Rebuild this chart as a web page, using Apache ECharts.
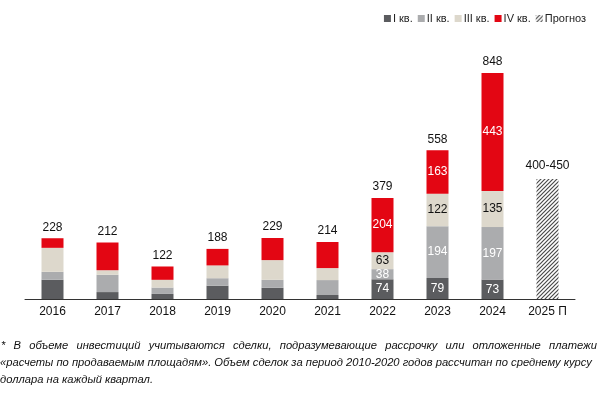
<!DOCTYPE html>
<html><head><meta charset="utf-8">
<script src="https://cdn.jsdelivr.net/npm/echarts@6/dist/echarts.min.js"></script>
<style>html,body{margin:0;padding:0;background:#fff}#c{width:600px;height:393px}</style>
</head><body><div id="c"></div>
<script>
const categories = ['2016','2017','2018','2019','2020','2021','2022','2023','2024','2025 П'];
const q1 = [72, 26, 19, 50, 42, 15, 74, 79, 73, '-'];
const q2 = [30, 65, 24, 28, 30, 56, 38, 194, 197, '-'];
const q3 = [90, 17, 29, 48, 74, 45, 63, 122, 135, '-'];
const q4 = [36, 104, 50, 62, 83, 98, 204, 163, 443, '-'];
const totals = ['228','212','122','188','229','214','379','558','848',''];
const forecast = ['-','-','-','-','-','-','-','-','-', 450];
const forecastLabel = '400-450';
const labeledYears = ['2022','2023','2024'];
const seriesNames = ['I кв.','II кв.','III кв.','IV кв.','Прогноз'];
const footLines = [
  '* В объеме инвестиций учитываются сделки, подразумевающие рассрочку или отложенные платежи',
  '«расчеты по продаваемым площадям». Объем сделок за период 2010-2020 годов рассчитан по среднему курсу',
  'доллара на каждый квартал.'
];

const colors = ['#5b5c5f', '#abacae', '#ddd8cc', '#e30613'];
const labelColors = ['#fff', '#fff', '#111', '#fff'];

// hatch pattern
const hc = document.createElement('canvas');
hc.width = 4; hc.height = 4;
const hx = hc.getContext('2d');
hx.fillStyle = '#fff'; hx.fillRect(0,0,4,4);
hx.strokeStyle = '#4a4a4a'; hx.lineWidth = 1.2;
hx.beginPath();
hx.moveTo(-1,5); hx.lineTo(5,-1);
hx.moveTo(-1,1); hx.lineTo(1,-1);
hx.moveTo(3,5); hx.lineTo(5,3);
hx.stroke();

function mk(vals) {
  return vals.map((v, k) => {
    const show = labeledYears.indexOf(categories[k]) >= 0 && v !== '-';
    return { value: v, label: { show: show } };
  });
}

const series = [q1, q2, q3, q4].map((vals, i) => ({
  name: seriesNames[i], type: 'bar', stack: 'a', barWidth: 22,
  itemStyle: { color: colors[i] },
  label: { position: 'inside', color: labelColors[i], fontSize: 12, fontFamily: 'Liberation Sans' },
  data: mk(vals)
}));
series.push({
  name: seriesNames[4], type: 'bar', stack: 'a', barWidth: 22,
  itemStyle: { color: { image: hc, repeat: 'repeat' } },
  label: { show: true, position: 'top', distance: 7, color: '#111', fontSize: 12, fontFamily: 'Liberation Sans',
           formatter: () => forecastLabel },
  data: forecast
});
series.push({
  name: 'total', type: 'bar', stack: 'a', barWidth: 22,
  itemStyle: { color: 'transparent' },
  label: { show: true, position: 'top', distance: 5, color: '#111', fontSize: 12, fontFamily: 'Liberation Sans',
           formatter: p => totals[p.dataIndex] },
  data: totals.map(t => t === '' ? '-' : 0)
});

// footnote graphics (first line justified)
const fSize = 11.2;
const mc = document.createElement('canvas').getContext('2d');
mc.font = 'italic ' + fSize + 'px "Liberation Sans"';
const tstyle = t => ({ text: t, fontSize: fSize, fontStyle: 'italic', fontFamily: 'Liberation Sans', fill: '#111' });
const graphic = [];
const lineYs = [347, 364, 381];
const left = 1, right = 597;
(function(){
  const words = footLines[0].split(' ');
  const widths = words.map(w => mc.measureText(w).width);
  const sum = widths.reduce((a,b)=>a+b,0);
  const gap = (right - left - sum) / (words.length - 1);
  let x = left;
  words.forEach((w, k) => {
    graphic.push({ type: 'text', left: x, top: lineYs[0] - 7, style: tstyle(w) });
    x += widths[k] + gap;
  });
})();
for (let i = 1; i < footLines.length; i++) {
  graphic.push({ type: 'text', left: left - 1, top: lineYs[i] - 7, style: tstyle(footLines[i]) });
}

const chart = echarts.init(document.getElementById('c'), null, { renderer: 'canvas' });
chart.setOption({
  animation: false,
  backgroundColor: '#fff',
  textStyle: { fontFamily: 'Liberation Sans' },
  legend: {
    data: seriesNames, right: 9, top: 8, itemWidth: 7, itemHeight: 7, itemGap: 5,
    icon: 'rect', textStyle: { fontSize: 11, color: '#222', padding: [0,0,0,-3] }
  },
  grid: { left: 25, right: 25, top: 32.5, bottom: 94 },
  xAxis: {
    type: 'category', data: categories,
    axisLine: { lineStyle: { color: '#333', width: 1 } },
    axisTick: { show: false },
    axisLabel: { color: '#111', fontSize: 12, margin: 7, interval: 0 }
  },
  yAxis: { type: 'value', min: 0, max: 1000, show: false, splitLine: { show: false } },
  series: series,
  graphic: graphic
});
</script></body></html>
